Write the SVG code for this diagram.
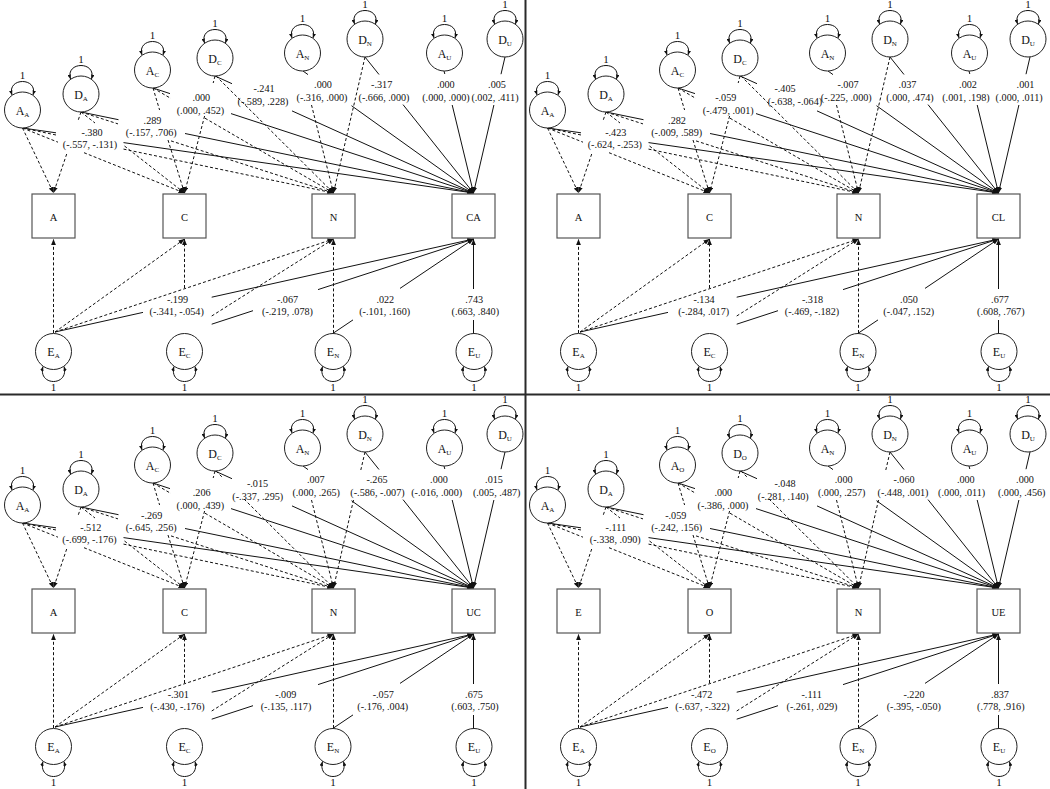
<svg xmlns="http://www.w3.org/2000/svg" width="1050" height="789" viewBox="0 0 1050 789">
<style>
.s{fill:none;stroke:#111;stroke-width:1}
.d{fill:none;stroke:#111;stroke-width:1;stroke-dasharray:3 2.2}
.a{marker-end:url(#ah)}
.bx{fill:#fff;stroke:#555;stroke-width:1.2}
text{font-family:"Liberation Serif","Times New Roman",serif;fill:#111}
.lb{font-size:10.2px;text-anchor:middle}
.nl{font-size:12px;text-anchor:middle}
.sb{font-size:7px}
.one{font-size:11px;text-anchor:middle}
.bl{font-size:10.5px;text-anchor:middle}
.dv{stroke:#2a2a2a;stroke-width:2}
</style>
<defs>
<marker id="ah" viewBox="0 0 10 8" refX="10" refY="4" markerWidth="6" markerHeight="4.8" markerUnits="userSpaceOnUse" orient="auto-start-reverse"><path d="M0,0L10,4L0,8z" fill="#111"/></marker>
<marker id="al" viewBox="0 0 10 8" refX="10" refY="4" markerWidth="4.5" markerHeight="3.6" markerUnits="userSpaceOnUse" orient="auto-start-reverse"><path d="M0,0L10,4L0,8z" fill="#111"/></marker>
<g id="lt"><circle r="18" fill="#fff" stroke="#222"/><path d="M-10.5,-15C-16,-33 16,-33 10.5,-15" fill="none" stroke="#111" marker-start="url(#al)" marker-end="url(#al)"/></g>
<g id="lb"><circle r="18" fill="#fff" stroke="#222"/><path d="M-10.5,15C-16,35 16,35 10.5,15" fill="none" stroke="#111" marker-start="url(#al)" marker-end="url(#al)"/></g>
<g id="cc">
<path class="d a" d="M22.5,128L53.5,193"/>
<path class="d" d="M22.5,128L58,142.2"/><path class="d a" d="M84,152.7L184.5,193"/>
<path class="d" d="M22.5,128L57,135.2"/><path class="d a" d="M123.5,149.1L333.5,193"/>
<path class="s" d="M22.5,128L56,132.8"/><path class="s a" d="M123.5,142.6L473.5,193"/>
<path class="d" d="M81,112L78,120.8"/><path class="d a" d="M66.7,154L53.5,193"/>
<path class="d" d="M81,112L95,123"/><path class="d a" d="M124.5,146L184.5,193"/>
<path class="d" d="M81,112L118,123.9"/><path class="d a" d="M171,140.9L333.5,193"/>
<path class="s" d="M81,112L118.5,119.7"/><path class="s a" d="M185,133.5L473.5,193"/>
<path class="d" d="M153,88L159.6,110"/><path class="d a" d="M168,140L184.5,193"/>
<path class="d" d="M153,88L171,98.5"/><path class="d a" d="M205,118.2L333.5,193"/>
<path class="s" d="M153,88L170,93.6"/><path class="s a" d="M231,113.6L473.5,193"/>
<path class="d" d="M215,76L213.2,83"/><path class="d a" d="M204.6,116L184.5,193"/>
<path class="s" d="M215,76L232,83.7"/><path class="s a" d="M292,110.9L473.5,193"/>
<path class="d a" d="M311.5,105L333.5,193"/>
<path class="s" d="M303,71L308,74.6"/><path class="s a" d="M351.5,105.7L473.5,193"/>
<path class="s" d="M365,57L379,74.5"/><path class="s a" d="M403,104.6L473.5,193"/>
<path class="s" d="M444,71L444.8,74"/><path class="s a" d="M452.2,105L473.5,193"/>
<path class="s" d="M505,57L501,74.2"/><path class="s a" d="M493.9,105L473.5,193"/>
<path class="d a" d="M53.5,333L53.5,239"/>
<path class="d a" d="M55,332L184.5,239"/>
<path class="d a" d="M55,332L333.5,239"/>
<path class="s" d="M55,332L143,312.4"/><path class="s a" d="M211.7,297.2L473.5,239"/>
<path class="d a" d="M184.5,288L184.5,239"/>
<path class="d a" d="M211.7,316L333.5,239"/>
<path class="s" d="M211.7,324.2L253,310.7"/><path class="s a" d="M318,289.6L473.5,239"/>
<path class="d a" d="M333.5,333L333.5,239"/>
<path class="s" d="M333.5,333L353,319.9"/><path class="s a" d="M400,288.4L473.5,239"/>
<path class="s" d="M473.5,333L473.5,320"/><path class="s a" d="M473.5,289L473.5,239"/>
</g>
<g id="ca">
<path class="d a" d="M216,76L333.5,193"/>
<path class="d a" d="M365,57L333.5,193"/>
</g>
<g id="cb">
<path class="d" d="M216,76L222,82"/><path class="d a" d="M244,104L333.5,193"/>
<path class="d" d="M365,57L360.8,75"/><path class="d a" d="M353.5,105L333.5,193"/>
</g>
</defs>
<rect width="1050" height="789" fill="#fff"/>
<g id="connectors">
<use href="#cc"/><use href="#ca"/>
<use href="#cc" x="525"/><use href="#ca" x="525"/>
<use href="#cc" y="395"/><use href="#cb" y="395"/>
<use href="#cc" x="525" y="395"/><use href="#cb" x="525" y="395"/>
</g>

<g id="panel-tl">
<g id="tl-AA" transform="translate(22.5,110)"><use href="#lt"/><text class="one" y="-31">1</text><text class="nl" y="4.5">A<tspan class="sb" dy="2">A</tspan></text></g>
<g id="tl-DA" transform="translate(81,94)"><use href="#lt"/><text class="one" y="-31">1</text><text class="nl" y="4.5">D<tspan class="sb" dy="2">A</tspan></text></g>
<g id="tl-AC" transform="translate(152.5,70)"><use href="#lt"/><text class="one" y="-31">1</text><text class="nl" y="4.5">A<tspan class="sb" dy="2">C</tspan></text></g>
<g id="tl-DC" transform="translate(215,58)"><use href="#lt"/><text class="one" y="-31">1</text><text class="nl" y="4.5">D<tspan class="sb" dy="2">C</tspan></text></g>
<g id="tl-AN" transform="translate(302.5,53)"><use href="#lt"/><text class="one" y="-31">1</text><text class="nl" y="4.5">A<tspan class="sb" dy="2">N</tspan></text></g>
<g id="tl-DN" transform="translate(365,39)"><use href="#lt"/><text class="one" y="-31">1</text><text class="nl" y="4.5">D<tspan class="sb" dy="2">N</tspan></text></g>
<g id="tl-AU" transform="translate(444.5,53)"><use href="#lt"/><text class="one" y="-31">1</text><text class="nl" y="4.5">A<tspan class="sb" dy="2">U</tspan></text></g>
<g id="tl-DU" transform="translate(505,39)"><use href="#lt"/><text class="one" y="-31">1</text><text class="nl" y="4.5">D<tspan class="sb" dy="2">U</tspan></text></g>
<g id="tl-EA" transform="translate(53.5,351.5)"><use href="#lb"/><text class="one" y="39">1</text><text class="nl" y="4.5">E<tspan class="sb" dy="2">A</tspan></text></g>
<g id="tl-EC" transform="translate(184.5,351.5)"><use href="#lb"/><text class="one" y="39">1</text><text class="nl" y="4.5">E<tspan class="sb" dy="2">C</tspan></text></g>
<g id="tl-EN" transform="translate(333,351.5)"><use href="#lb"/><text class="one" y="39">1</text><text class="nl" y="4.5">E<tspan class="sb" dy="2">N</tspan></text></g>
<g id="tl-EU" transform="translate(474,351.5)"><use href="#lb"/><text class="one" y="39">1</text><text class="nl" y="4.5">E<tspan class="sb" dy="2">U</tspan></text></g>
<g id="tl-A"><rect class="bx" x="32" y="194" width="43" height="44"/><text class="bl" x="53.5" y="220.5">A</text></g>
<g id="tl-C"><rect class="bx" x="163" y="194" width="43" height="44"/><text class="bl" x="184.5" y="220.5">C</text></g>
<g id="tl-N"><rect class="bx" x="312" y="194" width="43" height="44"/><text class="bl" x="333.5" y="220.5">N</text></g>
<g id="tl-CA"><rect class="bx" x="452" y="194" width="43" height="44"/><text class="bl" x="473.5" y="220.5">CA</text></g>
<g id="tl-labels" class="lb">
<text x="92" y="135.8">-.380</text><text x="90" y="148">(-.557, -.131)</text>
<text x="152.5" y="124">.289</text><text x="151.3" y="136.3">(-.157, .706)</text>
<text x="201.3" y="101.3">.000</text><text x="200.5" y="113.5">(.000, .452)</text>
<text x="264" y="92.3">-.241</text><text x="263" y="104.5">(-.589, .228)</text>
<text x="323" y="88.3">.000</text><text x="322" y="100.5">(-.316, .000)</text>
<text x="381.7" y="88.3">-.317</text><text x="384" y="100.5">(-.666, .000)</text>
<text x="445.8" y="88.3">.000</text><text x="446" y="100.5">(.000, .000)</text>
<text x="497" y="88.3">.005</text><text x="495" y="100.5">(.002, .411)</text>
<text x="177.5" y="302.7">-.199</text><text x="176.7" y="314.7">(-.341, -.054)</text>
<text x="287.5" y="302.7">-.067</text><text x="287.5" y="314.7">(-.219, .078)</text>
<text x="385.3" y="302.7">.022</text><text x="384.7" y="314.7">(-.101, .160)</text>
<text x="474.2" y="302.7">.743</text><text x="475.3" y="314.7">(.663, .840)</text>
</g>
</g>

<g id="panel-tr" transform="translate(525,0)">
<g id="tr-AA" transform="translate(22.5,110)"><use href="#lt"/><text class="one" y="-31">1</text><text class="nl" y="4.5">A<tspan class="sb" dy="2">A</tspan></text></g>
<g id="tr-DA" transform="translate(81,94)"><use href="#lt"/><text class="one" y="-31">1</text><text class="nl" y="4.5">D<tspan class="sb" dy="2">A</tspan></text></g>
<g id="tr-AC" transform="translate(152.5,70)"><use href="#lt"/><text class="one" y="-31">1</text><text class="nl" y="4.5">A<tspan class="sb" dy="2">C</tspan></text></g>
<g id="tr-DC" transform="translate(215,58)"><use href="#lt"/><text class="one" y="-31">1</text><text class="nl" y="4.5">D<tspan class="sb" dy="2">C</tspan></text></g>
<g id="tr-AN" transform="translate(302.5,53)"><use href="#lt"/><text class="one" y="-31">1</text><text class="nl" y="4.5">A<tspan class="sb" dy="2">N</tspan></text></g>
<g id="tr-DN" transform="translate(365,39)"><use href="#lt"/><text class="one" y="-31">1</text><text class="nl" y="4.5">D<tspan class="sb" dy="2">N</tspan></text></g>
<g id="tr-AU" transform="translate(444.5,53)"><use href="#lt"/><text class="one" y="-31">1</text><text class="nl" y="4.5">A<tspan class="sb" dy="2">U</tspan></text></g>
<g id="tr-DU" transform="translate(503,39)"><use href="#lt"/><text class="one" y="-31">1</text><text class="nl" y="4.5">D<tspan class="sb" dy="2">U</tspan></text></g>
<g id="tr-EA" transform="translate(53.5,351.5)"><use href="#lb"/><text class="one" y="39">1</text><text class="nl" y="4.5">E<tspan class="sb" dy="2">A</tspan></text></g>
<g id="tr-EC" transform="translate(184.5,351.5)"><use href="#lb"/><text class="one" y="39">1</text><text class="nl" y="4.5">E<tspan class="sb" dy="2">C</tspan></text></g>
<g id="tr-EN" transform="translate(333,351.5)"><use href="#lb"/><text class="one" y="39">1</text><text class="nl" y="4.5">E<tspan class="sb" dy="2">N</tspan></text></g>
<g id="tr-EU" transform="translate(474,351.5)"><use href="#lb"/><text class="one" y="39">1</text><text class="nl" y="4.5">E<tspan class="sb" dy="2">U</tspan></text></g>
<g id="tr-A"><rect class="bx" x="32" y="194" width="43" height="44"/><text class="bl" x="53.5" y="220.5">A</text></g>
<g id="tr-C"><rect class="bx" x="163" y="194" width="43" height="44"/><text class="bl" x="184.5" y="220.5">C</text></g>
<g id="tr-N"><rect class="bx" x="312" y="194" width="43" height="44"/><text class="bl" x="333.5" y="220.5">N</text></g>
<g id="tr-CL"><rect class="bx" x="452" y="194" width="43" height="44"/><text class="bl" x="473.5" y="220.5">CL</text></g>
<g id="tr-labels" class="lb">
<text x="90.8" y="135.8">-.423</text><text x="89.8" y="148">(-.624, -.253)</text>
<text x="152" y="124">.282</text><text x="151.7" y="136.3">(-.009, .589)</text>
<text x="200.8" y="101.3">-.059</text><text x="203.3" y="113.5">(-.479, .001)</text>
<text x="260" y="92.3">-.405</text><text x="270" y="104.5">(-.638, -.064)</text>
<text x="323" y="88.3">-.007</text><text x="321.3" y="100.5">(-.225, .000)</text>
<text x="382.5" y="88.3">.037</text><text x="385" y="100.5">(.000, .474)</text>
<text x="443" y="88.3">.002</text><text x="441" y="100.5">(.001, .198)</text>
<text x="500.5" y="88.3">.001</text><text x="494.2" y="100.5">(.000, .011)</text>
<text x="179" y="302.7">-.134</text><text x="178.7" y="314.7">(-.284, .017)</text>
<text x="287.5" y="302.7">-.318</text><text x="287" y="314.7">(-.469, -.182)</text>
<text x="384" y="302.7">.050</text><text x="383.8" y="314.7">(-.047, .152)</text>
<text x="475" y="302.7">.677</text><text x="475.8" y="314.7">(.608, .767)</text>
</g>
</g>

<g id="panel-bl" transform="translate(0,395)">
<g id="bl-AA" transform="translate(22.5,110)"><use href="#lt"/><text class="one" y="-31">1</text><text class="nl" y="4.5">A<tspan class="sb" dy="2">A</tspan></text></g>
<g id="bl-DA" transform="translate(81,94)"><use href="#lt"/><text class="one" y="-31">1</text><text class="nl" y="4.5">D<tspan class="sb" dy="2">A</tspan></text></g>
<g id="bl-AC" transform="translate(152.5,70)"><use href="#lt"/><text class="one" y="-31">1</text><text class="nl" y="4.5">A<tspan class="sb" dy="2">C</tspan></text></g>
<g id="bl-DC" transform="translate(215,58)"><use href="#lt"/><text class="one" y="-31">1</text><text class="nl" y="4.5">D<tspan class="sb" dy="2">C</tspan></text></g>
<g id="bl-AN" transform="translate(302.5,53)"><use href="#lt"/><text class="one" y="-31">1</text><text class="nl" y="4.5">A<tspan class="sb" dy="2">N</tspan></text></g>
<g id="bl-DN" transform="translate(365,39)"><use href="#lt"/><text class="one" y="-31">1</text><text class="nl" y="4.5">D<tspan class="sb" dy="2">N</tspan></text></g>
<g id="bl-AU" transform="translate(444.5,53)"><use href="#lt"/><text class="one" y="-31">1</text><text class="nl" y="4.5">A<tspan class="sb" dy="2">U</tspan></text></g>
<g id="bl-DU" transform="translate(505,39)"><use href="#lt"/><text class="one" y="-31">1</text><text class="nl" y="4.5">D<tspan class="sb" dy="2">U</tspan></text></g>
<g id="bl-EA" transform="translate(53.5,351.5)"><use href="#lb"/><text class="one" y="39">1</text><text class="nl" y="4.5">E<tspan class="sb" dy="2">A</tspan></text></g>
<g id="bl-EC" transform="translate(184.5,351.5)"><use href="#lb"/><text class="one" y="39">1</text><text class="nl" y="4.5">E<tspan class="sb" dy="2">C</tspan></text></g>
<g id="bl-EN" transform="translate(333,351.5)"><use href="#lb"/><text class="one" y="39">1</text><text class="nl" y="4.5">E<tspan class="sb" dy="2">N</tspan></text></g>
<g id="bl-EU" transform="translate(474,351.5)"><use href="#lb"/><text class="one" y="39">1</text><text class="nl" y="4.5">E<tspan class="sb" dy="2">U</tspan></text></g>
<g id="bl-A"><rect class="bx" x="32" y="194" width="43" height="44"/><text class="bl" x="53.5" y="220.5">A</text></g>
<g id="bl-C"><rect class="bx" x="163" y="194" width="43" height="44"/><text class="bl" x="184.5" y="220.5">C</text></g>
<g id="bl-N"><rect class="bx" x="312" y="194" width="43" height="44"/><text class="bl" x="333.5" y="220.5">N</text></g>
<g id="bl-UC"><rect class="bx" x="452" y="194" width="43" height="44"/><text class="bl" x="473.5" y="220.5">UC</text></g>
<g id="bl-labels" class="lb">
<text x="90.8" y="135.8">-.512</text><text x="89.5" y="148">(-.699, -.176)</text>
<text x="151.7" y="124">-.269</text><text x="151.2" y="136.3">(-.645, .256)</text>
<text x="201.7" y="101.3">.206</text><text x="200.3" y="113.5">(.000, .439)</text>
<text x="257.5" y="92.3">-.015</text><text x="257.8" y="104.5">(-.337, .295)</text>
<text x="315.8" y="88.3">.007</text><text x="316.2" y="100.5">(.000, .265)</text>
<text x="377" y="88.3">-.265</text><text x="377.5" y="100.5">(-.586, -.007)</text>
<text x="439" y="88.3">.000</text><text x="436.7" y="100.5">(-.016, .000)</text>
<text x="494" y="88.3">.015</text><text x="496.7" y="100.5">(.005, .487)</text>
<text x="178.3" y="302.7">-.301</text><text x="177.5" y="314.7">(-.430, -.176)</text>
<text x="285.8" y="302.7">-.009</text><text x="286" y="314.7">(-.135, .117)</text>
<text x="383.3" y="302.7">-.057</text><text x="382.8" y="314.7">(-.176, .004)</text>
<text x="474" y="302.7">.675</text><text x="475" y="314.7">(.603, .750)</text>
</g>
</g>

<g id="panel-br" transform="translate(525,395)">
<g id="br-AA" transform="translate(22.5,110)"><use href="#lt"/><text class="one" y="-31">1</text><text class="nl" y="4.5">A<tspan class="sb" dy="2">A</tspan></text></g>
<g id="br-DA" transform="translate(81,94)"><use href="#lt"/><text class="one" y="-31">1</text><text class="nl" y="4.5">D<tspan class="sb" dy="2">A</tspan></text></g>
<g id="br-AO" transform="translate(152.5,70)"><use href="#lt"/><text class="one" y="-31">1</text><text class="nl" y="4.5">A<tspan class="sb" dy="2">O</tspan></text></g>
<g id="br-DO" transform="translate(215,58)"><use href="#lt"/><text class="one" y="-31">1</text><text class="nl" y="4.5">D<tspan class="sb" dy="2">O</tspan></text></g>
<g id="br-AN" transform="translate(302.5,53)"><use href="#lt"/><text class="one" y="-31">1</text><text class="nl" y="4.5">A<tspan class="sb" dy="2">N</tspan></text></g>
<g id="br-DN" transform="translate(365,39)"><use href="#lt"/><text class="one" y="-31">1</text><text class="nl" y="4.5">D<tspan class="sb" dy="2">N</tspan></text></g>
<g id="br-AU" transform="translate(444.5,53)"><use href="#lt"/><text class="one" y="-31">1</text><text class="nl" y="4.5">A<tspan class="sb" dy="2">U</tspan></text></g>
<g id="br-DU" transform="translate(503,39)"><use href="#lt"/><text class="one" y="-31">1</text><text class="nl" y="4.5">D<tspan class="sb" dy="2">U</tspan></text></g>
<g id="br-EA" transform="translate(53.5,351.5)"><use href="#lb"/><text class="one" y="39">1</text><text class="nl" y="4.5">E<tspan class="sb" dy="2">A</tspan></text></g>
<g id="br-EO" transform="translate(184.5,351.5)"><use href="#lb"/><text class="one" y="39">1</text><text class="nl" y="4.5">E<tspan class="sb" dy="2">O</tspan></text></g>
<g id="br-EN" transform="translate(333,351.5)"><use href="#lb"/><text class="one" y="39">1</text><text class="nl" y="4.5">E<tspan class="sb" dy="2">N</tspan></text></g>
<g id="br-EU" transform="translate(474,351.5)"><use href="#lb"/><text class="one" y="39">1</text><text class="nl" y="4.5">E<tspan class="sb" dy="2">U</tspan></text></g>
<g id="br-E"><rect class="bx" x="32" y="194" width="43" height="44"/><text class="bl" x="53.5" y="220.5">E</text></g>
<g id="br-O"><rect class="bx" x="163" y="194" width="43" height="44"/><text class="bl" x="184.5" y="220.5">O</text></g>
<g id="br-N"><rect class="bx" x="312" y="194" width="43" height="44"/><text class="bl" x="333.5" y="220.5">N</text></g>
<g id="br-UE"><rect class="bx" x="452" y="194" width="43" height="44"/><text class="bl" x="473.5" y="220.5">UE</text></g>
<g id="br-labels" class="lb">
<text x="90.8" y="135.8">-.111</text><text x="90.3" y="148">(-.338, .090)</text>
<text x="150.8" y="124">-.059</text><text x="151.7" y="136.3">(-.242, .156)</text>
<text x="198.3" y="101.3">.000</text><text x="198" y="113.5">(-.386, .000)</text>
<text x="260" y="92.3">-.048</text><text x="258.3" y="104.5">(-.281, .140)</text>
<text x="318.7" y="88.3">.000</text><text x="316.7" y="100.5">(.000, .257)</text>
<text x="379" y="88.3">-.060</text><text x="378" y="100.5">(-.448, .001)</text>
<text x="440.8" y="88.3">.000</text><text x="436.7" y="100.5">(.000, .011)</text>
<text x="500" y="88.3">.000</text><text x="496.7" y="100.5">(.000, .456)</text>
<text x="176.7" y="302.7">-.472</text><text x="177.5" y="314.7">(-.637, -.322)</text>
<text x="286.7" y="302.7">-.111</text><text x="287" y="314.7">(-.261, .029)</text>
<text x="389" y="302.7">-.220</text><text x="388.8" y="314.7">(-.395, -.050)</text>
<text x="475" y="302.7">.837</text><text x="475.8" y="314.7">(.778, .916)</text>
</g>
</g>

<g id="dividers">
<line class="dv" x1="525.5" y1="0" x2="525.5" y2="789"/>
<line class="dv" x1="0" y1="394.5" x2="1050" y2="394.5"/>
</g>
</svg>
